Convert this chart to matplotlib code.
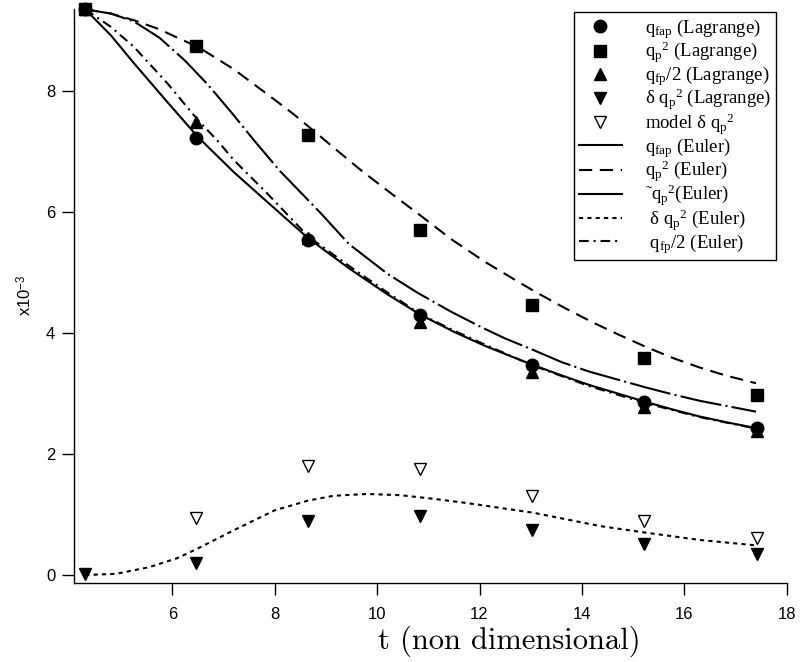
import matplotlib
matplotlib.use("Agg")
import matplotlib.pyplot as plt
from matplotlib.lines import Line2D

plt.rcParams['font.family'] = ['Liberation Sans', 'DejaVu Sans']
plt.rcParams['mathtext.fontset'] = 'custom'
plt.rcParams['mathtext.rm'] = 'Liberation Serif'
plt.rcParams['mathtext.it'] = 'Liberation Serif:italic'
plt.rcParams['mathtext.sf'] = 'Liberation Sans'
plt.rcParams['lines.scale_dashes'] = False

# Lagrangian samples
t_lag = [4.3, 6.47, 8.65, 10.84, 13.03, 15.22, 17.41]
q_fap_lag = [9.35, 7.22, 5.54, 4.30, 3.47, 2.86, 2.43]
q_p2_lag = [9.35, 8.74, 7.27, 5.71, 4.46, 3.58, 2.98]
q_fp_half_lag = [9.35, 7.49, 5.57, 4.19, 3.36, 2.78, 2.38]
dq_p2_lag = [0.02, 0.20, 0.90, 0.98, 0.74, 0.51, 0.34]

t_model = [6.47, 8.65, 10.84, 13.03, 15.22, 17.41]
dq_p2_model = [0.95, 1.81, 1.75, 1.31, 0.89, 0.62]

# Eulerian curves
t_fap = [4.3, 4.8, 5.25, 5.9, 6.5, 7.2, 7.85, 8.65, 9.45, 10.2, 10.85, 11.5,
         12.1, 12.6, 13.05, 13.6, 14.15, 14.7, 15.25, 15.8, 16.3, 16.85, 17.4]
q_fap_eul = [9.35, 8.92, 8.46, 7.82, 7.24, 6.66, 6.17, 5.57, 5.07, 4.64, 4.30, 4.02,
             3.79, 3.62, 3.47, 3.30, 3.14, 3.00, 2.86, 2.73, 2.62, 2.52, 2.43]

t_p2 = [4.3, 4.8, 5.25, 5.75, 6.1, 6.5, 7.2, 7.85, 8.35, 8.65, 9.2, 9.7, 10.3,
        10.85, 11.45, 12.1, 12.65, 13.05, 13.65, 14.2, 14.7, 15.25, 15.8, 16.3, 16.8, 17.4]
q_p2_eul = [9.35, 9.28, 9.17, 9.02, 8.88, 8.73, 8.36, 7.95, 7.63, 7.42, 7.03, 6.68, 6.29,
            5.94, 5.55, 5.18, 4.90, 4.70, 4.42, 4.18, 3.98, 3.77, 3.58, 3.43, 3.30, 3.17]

t_tp2 = [4.3, 4.8, 5.25, 5.75, 6.25, 6.7, 7.15, 7.6, 8.1, 8.5, 8.9, 9.45, 10.2,
         10.8, 11.45, 12.05, 12.5, 13.05, 13.6, 14.15, 14.7, 15.25, 15.8, 16.3, 16.85, 17.4]
q_tp2_eul = [9.35, 9.28, 9.15, 8.88, 8.50, 8.10, 7.65, 7.18, 6.68, 6.33, 5.98, 5.47, 4.98,
             4.66, 4.35, 4.09, 3.91, 3.72, 3.52, 3.36, 3.23, 3.10, 2.98, 2.88, 2.79, 2.70]

t_dp2 = [4.3, 4.9, 5.55, 6.1, 6.5, 7.2, 8.0, 8.65, 9.15, 9.8, 10.45, 11.1, 11.75,
         12.4, 13.05, 13.7, 14.35, 15.25, 16.3, 17.4]
dq_p2_eul = [0.0, 0.02, 0.13, 0.28, 0.44, 0.74, 1.07, 1.23, 1.31, 1.34, 1.32, 1.26, 1.19,
             1.11, 1.03, 0.92, 0.81, 0.70, 0.58, 0.49]

t_fp = [4.3, 4.8, 5.25, 5.9, 6.5, 6.87, 7.2, 7.85, 8.65, 9.45, 10.2, 10.85, 11.5,
        12.1, 13.05, 14.15, 15.25, 16.3, 17.4]
q_fp_half_eul = [9.35, 9.06, 8.73, 8.13, 7.52, 7.19, 6.86, 6.31, 5.60, 5.11, 4.67, 4.31, 4.04,
                 3.81, 3.46, 3.12, 2.84, 2.61, 2.42]

fig = plt.figure(figsize=(8.01, 6.62), dpi=100)
ax = fig.add_axes([0.0924, 0.1193, 0.8898, 0.8666])

lw = 1.5
ax.plot(t_fap, q_fap_eul, color='black', lw=lw, clip_on=False)
ax.plot(t_p2, q_p2_eul, color='black', lw=lw, dashes=(9.5, 5.5), clip_on=False)
ax.plot(t_tp2, q_tp2_eul, color='black', lw=lw, dashes=(30, 3, 1.5, 3), clip_on=False)
ax.plot(t_dp2, dq_p2_eul, color='black', lw=lw, dashes=(3, 3), clip_on=False)
ax.plot(t_fp, q_fp_half_eul, color='black', lw=lw, dashes=(7, 3.5, 1.5, 3.5), clip_on=False)

ms = 9
ax.plot(t_lag, q_fap_lag, 'o', color='black', ms=ms, clip_on=False)
ax.plot(t_lag, q_fp_half_lag, '^', color='black', ms=ms, clip_on=False)
ax.plot(t_lag, q_p2_lag, 's', color='black', ms=ms, clip_on=False)
ax.plot(t_lag, dq_p2_lag, 'v', color='black', ms=ms, clip_on=False)
ax.plot(t_model, dq_p2_model, 'v', mfc='white', mec='black', mew=1, ms=ms, clip_on=False)

ax.set_xlim(4.08, 18.0)
ax.set_ylim(-0.132, 9.35)
ax.set_xticks([6, 8, 10, 12, 14, 16, 18])
ax.set_yticks([0, 2, 4, 6, 8])
for s in ['top', 'right']:
    ax.spines[s].set_visible(False)
for s in ['left', 'bottom']:
    ax.spines[s].set_linewidth(1.0)
ax.tick_params(direction='out', length=8.5, width=1.0, labelsize=12)
ax.tick_params(axis='x', pad=9)
ax.tick_params(axis='y', pad=5)

fig.text(25 / 801, 1 - 295 / 662, r'x10$^{\mathsf{-3}}$', rotation=90,
         ha='center', va='center', fontsize=12)
fig.text(0.636, 0.0196, 't (non dimensional)', family='cmr10', fontsize=22,
         ha='center', va='baseline')

handles = [
    Line2D([], [], ls='none', marker='o', color='black', ms=ms),
    Line2D([], [], ls='none', marker='s', color='black', ms=ms),
    Line2D([], [], ls='none', marker='^', color='black', ms=ms),
    Line2D([], [], ls='none', marker='v', color='black', ms=ms),
    Line2D([], [], ls='none', marker='v', mfc='white', mec='black', mew=1, ms=ms),
    Line2D([], [], color='black', lw=lw),
    Line2D([], [], color='black', lw=lw, dashes=(9.5, 5.5)),
    Line2D([], [], color='black', lw=lw),
    Line2D([], [], color='black', lw=lw, dashes=(3, 3)),
    Line2D([], [], color='black', lw=lw, dashes=(7, 3.5, 1.5, 3.5)),
]
labels = [
    r'q$_{\rm fap}$ (Lagrange)',
    r'q$_{\rm p}$$^{\rm 2}$ (Lagrange)',
    r'q$_{\rm fp}$/2 (Lagrange)',
    r'δ q$_{\rm p}$$^{\rm 2}$ (Lagrange)',
    r'model δ q$_{\rm p}$$^{\rm 2}$',
    r'q$_{\rm fap}$ (Euler)',
    r'q$_{\rm p}$$^{\rm 2}$ (Euler)',
    r'˜q$_{\rm p}$$^{\rm 2}$(Euler)',
    r' δ q$_{\rm p}$$^{\rm 2}$ (Euler)',
    r' q$_{\rm fp}$/2 (Euler)',
]
leg = fig.legend(handles, labels, loc='upper right', bbox_to_anchor=(0.969, 0.982),
                 prop={'family': 'Liberation Serif', 'size': 13.5},
                 frameon=True, fancybox=False, framealpha=1, edgecolor='black',
                 handlelength=2.3, handletextpad=1.25, labelspacing=-0.05,
                 borderpad=0.25, borderaxespad=0)
leg.get_frame().set_linewidth(1.0)

fig.savefig('out.png', dpi=100)
